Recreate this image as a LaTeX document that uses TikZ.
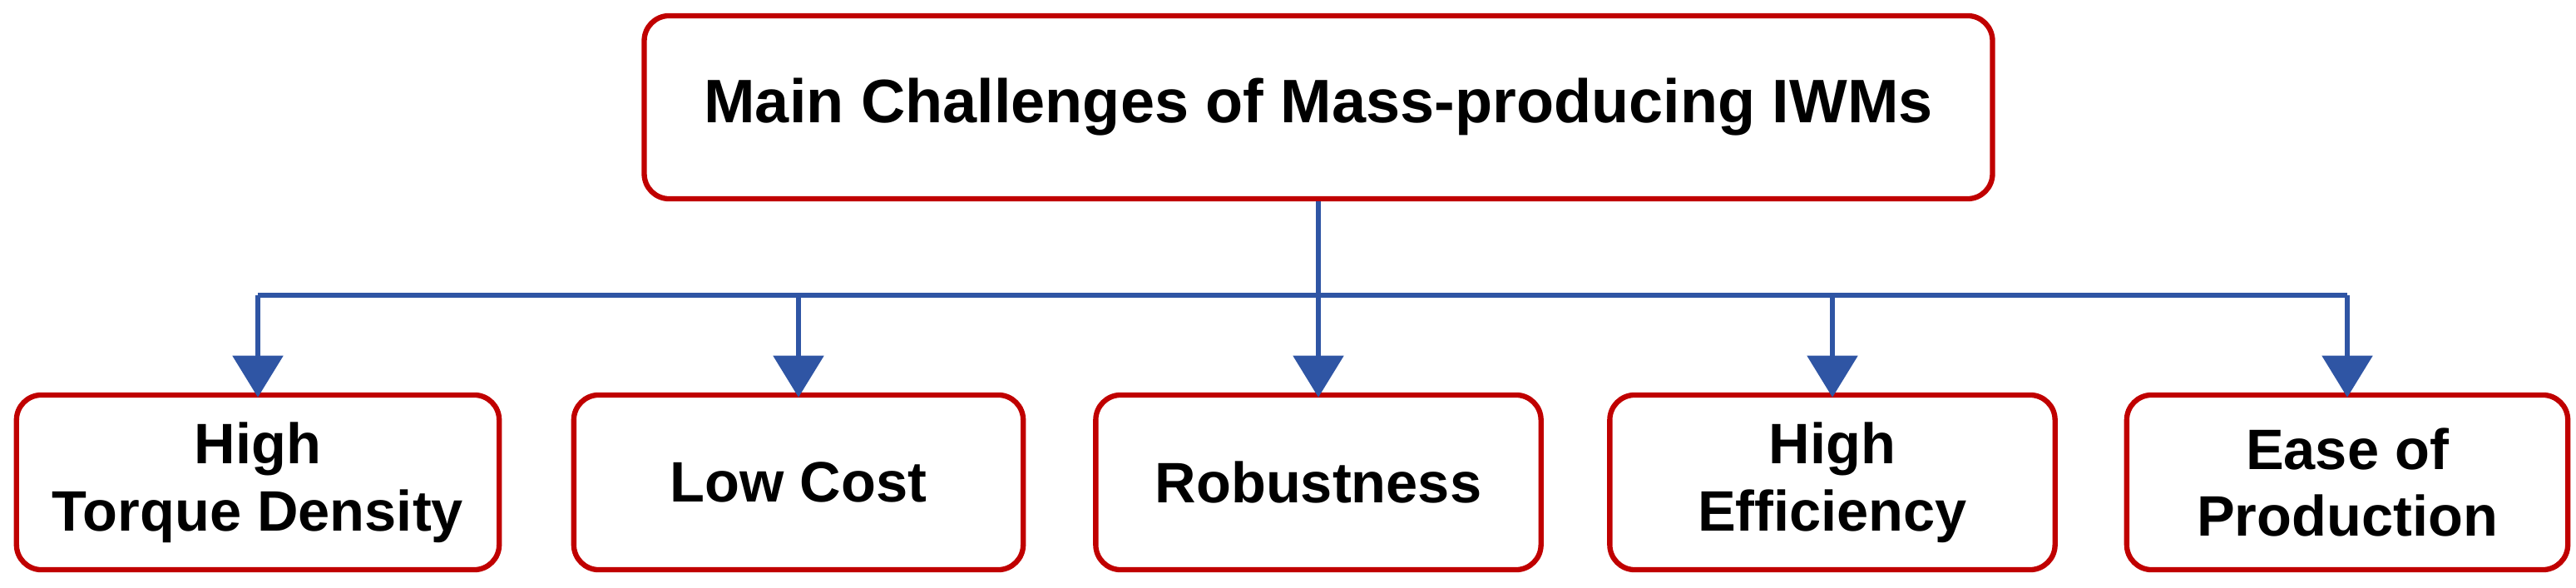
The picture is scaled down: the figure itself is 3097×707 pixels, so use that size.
\documentclass[tikz,border=0pt]{standalone}
\usepackage{fontspec}
\setmainfont{Liberation Sans}
\usetikzlibrary{arrows.meta}
\definecolor{bred}{HTML}{C00000}
\definecolor{lblue}{HTML}{2F55A4}
\begin{document}
\begin{tikzpicture}[x=0.01cm,y=-0.01cm,
  box/.style={draw=bred,line width=1.8pt,rounded corners=0.3cm,fill=white,align=center,
    font=\fontsize{19.5}{23}\selectfont\bfseries,inner sep=0pt},
  conn/.style={draw=lblue,line width=1.5pt},
  arr/.style={conn,-{Triangle[width=0.6cm,length=0.5cm]}}]
\useasboundingbox (0,0) rectangle (3097,707);
\node[box,minimum width=16.2cm,minimum height=2.2cm,font=\fontsize{21}{25}\selectfont\bfseries] (top) at (1585,129) {Main Challenges of Mass-producing IWMs};
\node[box,minimum width=5.8cm,minimum height=2.1cm] (b1) at (310,580) {High\\Torque Density};
\node[box,minimum width=5.4cm,minimum height=2.1cm] (b2) at (960,580) {Low Cost};
\node[box,minimum width=5.35cm,minimum height=2.1cm] (b3) at (1585,580) {Robustness};
\node[box,minimum width=5.35cm,minimum height=2.1cm] (b4) at (2203,580) {High\\Efficiency};
\node[box,minimum width=5.3cm,minimum height=2.1cm] (b5) at (2822,580) {Ease of\\Production};
\coordinate (bus) at (1585,355);
\draw[conn] (top.south) -- (bus);
\draw[conn] (b1.north|-bus) -- (b5.north|-bus);
\foreach \b in {b1,b2,b3,b4,b5}{\draw[arr] (\b.north|-bus) -- ([yshift=-0.06cm]\b.north);}
\end{tikzpicture}
\end{document}
